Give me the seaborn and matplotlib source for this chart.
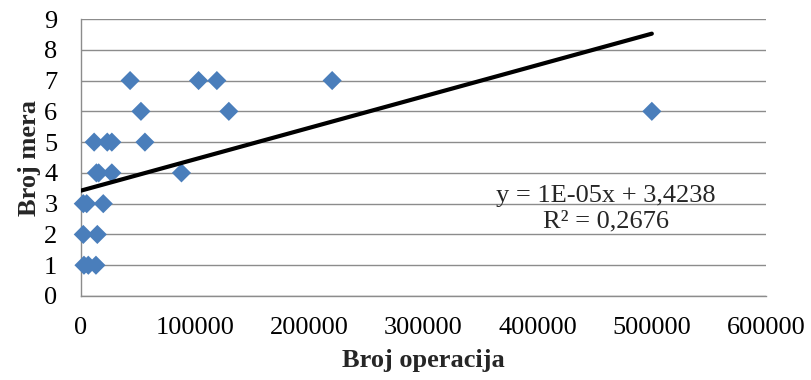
import matplotlib
matplotlib.use("Agg")
import matplotlib.pyplot as plt
import seaborn as sns
import numpy as np
import pandas as pd

# Data
broj_operacija = [43000, 103000, 119000, 220000,
                  52500, 129500, 500000,
                  11500, 23000, 27000, 56000,
                  13500, 15500, 27000, 88000,
                  2000, 5000, 19500,
                  2000, 14300,
                  2600, 6400, 13100]
broj_mera = [7, 7, 7, 7,
             6, 6, 6,
             5, 5, 5, 5,
             4, 4, 4, 4,
             3, 3, 3,
             2, 2,
             1, 1, 1]

trend_slope = 1.02e-5
trend_intercept = 3.4238
trend_x = [0, 500000]
eq_text = "y = 1E-05x + 3,4238"
r2_text = "R² = 0,2676"

x_ticks = [0, 100000, 200000, 300000, 400000, 500000, 600000]
y_ticks = [0, 1, 2, 3, 4, 5, 6, 7, 8, 9]

df = pd.DataFrame({"x": broj_operacija, "y": broj_mera})
trend_df = pd.DataFrame({"x": trend_x,
                         "y": [trend_slope * v + trend_intercept for v in trend_x]})

sns.set_theme(style="white")
plt.rcParams["font.family"] = ["Liberation Serif", "DejaVu Serif"]

FS = 19

fig = plt.figure(figsize=(8.12, 3.8), dpi=100)
ax = fig.add_axes([81 / 812, 1 - 296 / 380, (766 - 81) / 812, (296 - 19) / 380])

ax.set_xlim(0, 600000)
ax.set_ylim(0, 9)
ax.set_xticks(x_ticks)
ax.set_yticks(y_ticks)
ax.set_xticklabels([str(v) for v in x_ticks])
ax.set_yticklabels([str(v) for v in y_ticks])

ax.grid(axis="y", color="#8c8c8c", linewidth=1.0)
ax.set_axisbelow(True)
for side in ["top", "right"]:
    ax.spines[side].set_visible(False)
for side in ["left", "bottom"]:
    ax.spines[side].set_color("#8c8c8c")
    ax.spines[side].set_linewidth(1.0)

sns.scatterplot(data=df, x="x", y="y", marker="D", s=95, color="#4a7ebb",
                edgecolor="none", linewidth=0, ax=ax, zorder=3, clip_on=False)
sns.lineplot(data=trend_df, x="x", y="y", color="black", linewidth=3,
             ax=ax, zorder=4, solid_capstyle="round")

ax.tick_params(axis="both", length=0, labelsize=FS, colors="black")
ax.tick_params(axis="y", pad=17)
ax.tick_params(axis="x", pad=15)

ax.set_xlabel("Broj operacija", fontsize=FS, fontweight="bold", labelpad=7)
ax.set_ylabel("Broj mera", fontsize=FS, fontweight="bold", labelpad=2)

ax.text(459900, 3.07, eq_text, fontsize=FS, ha="center", va="baseline")
ax.text(459900, 2.22, r2_text, fontsize=FS, ha="center", va="baseline")

fig.savefig("out.png", dpi=100)
